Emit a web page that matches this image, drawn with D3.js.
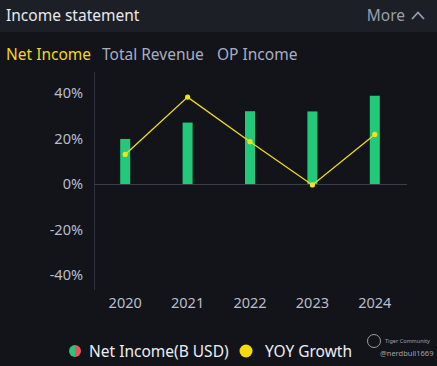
<!DOCTYPE html>
<html><head><meta charset="utf-8">
<script src="https://cdn.jsdelivr.net/npm/d3@7"></script>
<style>html,body{margin:0;padding:0;background:#12141a;overflow:hidden}</style>
</head><body>
<svg id="c" width="437" height="366"></svg>
<script>
const years = ["2020","2021","2022","2023","2024"];
const netIncome = [1.98, 2.70, 3.20, 3.19, 3.88];   // B USD (hidden axis)
const yoyGrowth = [13.0, 38.2, 18.6, -0.4, 21.8];   // %
const yTicks = [40, 20, 0, -20, -40];
const tabs = ["Net Income", "Total Revenue", "OP Income"];
const legendItems = ["Net Income(B USD)", "YOY Growth"];

const svg = d3.select("#c");
const font = "'Noto Sans', 'Open Sans', sans-serif";
svg.append("rect").attr("width",437).attr("height",366).attr("fill","#12141a");
svg.append("rect").attr("width",437).attr("height",32).attr("fill","#1c1f26");
svg.append("text").attr("x",6).attr("y",21).attr("fill","#e8e9ee").attr("font-family",font).attr("font-size",15.5).text("Income statement");
svg.append("text").attr("x",405).attr("y",21).attr("text-anchor","end").attr("fill","#9a9ea9").attr("font-family",font).attr("font-size",15.5).text("More");
svg.append("path").attr("d","M412,19 L418,12.5 L424,19").attr("fill","none").attr("stroke","#9a9ea9").attr("stroke-width",1.8);

const tabX = [6, 102, 217];
const tabColors = ["#f2d81c", "#a9adc4", "#a9adc4"];
svg.selectAll("text.tab").data(tabs).join("text").attr("class","tab")
  .attr("x",(d,i)=>tabX[i]).attr("y",60).attr("fill",(d,i)=>tabColors[i])
  .attr("font-family",font).attr("font-size",15.5).text(d=>d);

const x = d3.scaleBand().domain(years).range([94,406]);
const y = d3.scaleLinear().domain([-46.6,46.6]).range([290,78]);
const yB = d3.scaleLinear().domain([-4.66,4.66]).range([290,78]);

// y axis
const yAxis = d3.axisLeft(y).tickValues(yTicks).tickSize(0).tickPadding(11).tickFormat(d=>d+"%");
const ga = svg.append("g").attr("transform","translate(94,0)").call(yAxis);
ga.select(".domain").remove();
ga.selectAll("text").attr("fill","#b9bdcc").attr("font-family",font).attr("font-size",14.5);
svg.append("line").attr("x1",94.5).attr("x2",94.5).attr("y1",72).attr("y2",290).attr("stroke","#2e313b").attr("stroke-width",1);

const xAxis = d3.axisBottom(x).tickSize(0).tickPadding(0);
const gx = svg.append("g").attr("transform","translate(0,298)").call(xAxis);
gx.select(".domain").remove();
gx.selectAll("text").attr("fill","#b9bdcc").attr("font-family",font).attr("font-size",14.5).attr("dy","0.71em");

// bars
svg.selectAll("rect.bar").data(netIncome).join("rect").attr("class","bar")
  .attr("x",(d,i)=>x(years[i])+x.bandwidth()/2-5).attr("width",10)
  .attr("y",d=>yB(d)).attr("height",d=>yB(0)-yB(d)).attr("fill","#22c97b");

// zero line
svg.append("line").attr("x1",94).attr("x2",407).attr("y1",y(0)+0.5).attr("y2",y(0)+0.5).attr("stroke","#3b3e49").attr("stroke-width",1.2);

// line
const line = d3.line().x((d,i)=>x(years[i])+x.bandwidth()/2).y(d=>y(d));
svg.append("path").datum(yoyGrowth).attr("d",line).attr("fill","none").attr("stroke","#efdc1c").attr("stroke-width",1.3);
svg.selectAll("circle.pt").data(yoyGrowth).join("circle").attr("class","pt")
  .attr("cx",(d,i)=>x(years[i])+x.bandwidth()/2).attr("cy",d=>y(d)).attr("r",2.6).attr("fill","#f5e11a");

// legend
const lg = svg.append("g");
lg.append("path").attr("d",d3.arc()({innerRadius:0,outerRadius:6,startAngle:Math.PI,endAngle:2*Math.PI})).attr("transform","translate(75,351)").attr("fill","#2cc47a");
lg.append("path").attr("d",d3.arc()({innerRadius:0,outerRadius:6,startAngle:0,endAngle:Math.PI})).attr("transform","translate(75,351)").attr("fill","#e9545e");
lg.append("text").attr("x",89).attr("y",357).attr("fill","#eceef3").attr("font-family",font).attr("font-size",15.5).text(legendItems[0]);
lg.append("circle").attr("cx",246).attr("cy",351).attr("r",6.5).attr("fill","#f5da0f");
lg.append("text").attr("x",265).attr("y",357).attr("fill","#eceef3").attr("font-family",font).attr("font-size",15.5).text(legendItems[1]);

// watermark
const wm = svg.append("g").attr("opacity",0.75);
wm.append("circle").attr("cx",374).attr("cy",341).attr("r",6.5).attr("fill","none").attr("stroke","#c9cbd2").attr("stroke-width",1);
wm.append("text").attr("x",385).attr("y",343).attr("fill","#c9cbd2").attr("font-family",font).attr("font-size",5.5).text("Tiger Community");
wm.append("text").attr("x",380).attr("y",356).attr("fill","#c9cbd2").attr("font-family",font).attr("font-size",7.5).text("@nerdbull1669");
</script>
</body></html>
